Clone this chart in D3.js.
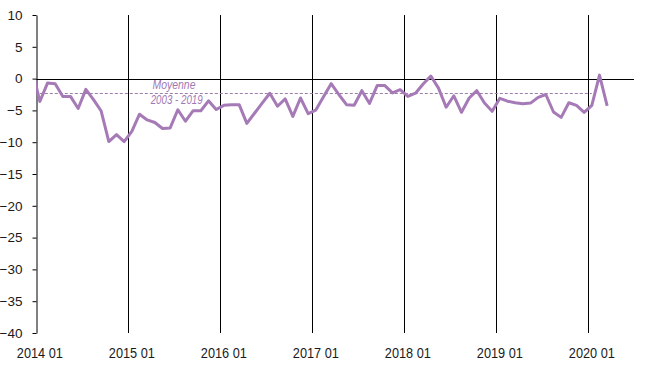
<!DOCTYPE html>
<html>
<head>
<meta charset="utf-8">
<script src="https://cdn.jsdelivr.net/npm/d3@7"></script>
<style>
  html, body { margin: 0; padding: 0; background: #fff; }
  svg { display: block; }
</style>
</head>
<body>
<svg id="chart" width="661" height="379"></svg>
<script>
// ---- data ----
// monthly values, starting December 2013 (first point lies left of the axis and is clipped)
const firstMonth = "2013 12";
const values = [
  1.5,
  -3.6, -0.7, -0.8, -2.8, -2.8, -4.7, -1.7, -3.3, -5.1, -9.9, -8.8, -9.9,
  -8.3, -5.6, -6.5, -6.9, -7.85, -7.75, -4.9, -6.7, -5.05, -5.05, -3.5, -4.85,
  -4.2, -4.1, -4.1, -7.05, -5.45, -3.85, -2.3, -4.35, -3.2, -5.95, -3.05, -5.5,
  -4.95, -2.85, -0.8, -2.5, -4.1, -4.2, -1.9, -3.9, -1.1, -1.1, -2.25, -1.75,
  -2.8, -2.3, -0.85, 0.4, -1.5, -4.5, -2.7, -5.3, -3.05, -1.9, -3.85, -5.15,
  -3.1, -3.55, -3.8, -3.95, -3.85, -2.95, -2.5, -5.25, -6.1, -3.8, -4.2, -5.3,
  -4.2, 0.55, -4.3
];
const meanValue = -2.2;
const meanLabel = ["Moyenne", "2003 - 2019"];
const xTickLabels = ["2014 01", "2015 01", "2016 01", "2017 01", "2018 01", "2019 01", "2020 01"];
const yTicks = [-40, -35, -30, -25, -20, -15, -10, -5, 0, 5, 10];

// ---- layout ----
const pLeft = 36, pRight = 634, pTop = 15, pBottom = 333;
const totalMonths = 78; // Jan 2014 .. Jun 2020
const lineColor = "#a57ab6";
const fontFam = "'Liberation Sans',Arial,sans-serif";

const svg = d3.select("#chart");
const x = d3.scaleLinear().domain([0, totalMonths]).range([pLeft, pRight]);
const y = d3.scaleLinear().domain([-40, 10]).range([pBottom, pTop]);

// month center position: index 0 = Dec 2013 -> -0.5
const mx = i => x(i - 0.5);

// year gridlines
svg.append("g").selectAll("line")
  .data(xTickLabels.slice(1))
  .join("line")
  .attr("x1", (d, k) => Math.round(x(12 * (k + 1))) + 0.5)
  .attr("x2", (d, k) => Math.round(x(12 * (k + 1))) + 0.5)
  .attr("y1", pTop).attr("y2", pBottom)
  .attr("stroke", "#000").attr("stroke-width", 1);

// y axis
const yAxis = d3.axisLeft(y).tickValues(yTicks).tickSize(4).tickSizeOuter(0).tickPadding(10);
const gy = svg.append("g").attr("transform", `translate(${pLeft + 0.5},0)`).call(yAxis);
gy.select(".domain").attr("stroke", "#000");
gy.selectAll(".tick line").attr("stroke", "#000");
gy.selectAll(".tick text")
  .attr("font-family", fontFam)
  .attr("font-size", 13.5).attr("fill", "#1a1a1a");

// zero line
svg.append("line")
  .attr("x1", pLeft).attr("x2", pRight)
  .attr("y1", Math.round(y(0)) + 0.5).attr("y2", Math.round(y(0)) + 0.5)
  .attr("stroke", "#000").attr("stroke-width", 1);

// x labels (condensed look)
svg.append("g").selectAll("text")
  .data(xTickLabels)
  .join("text")
  .attr("x", (d, k) => x(12 * k + 0.5))
  .attr("y", 358)
  .attr("text-anchor", "middle")
  .attr("font-family", fontFam)
  .attr("font-size", 15).attr("fill", "#1a1a1a")
  .attr("textLength", 46).attr("lengthAdjust", "spacingAndGlyphs")
  .text(d => d);

// mean line (Jan 2014 .. Jan 2020)
svg.append("line")
  .attr("x1", mx(1)).attr("x2", mx(73))
  .attr("y1", Math.round(y(meanValue)) + 0.5).attr("y2", Math.round(y(meanValue)) + 0.5)
  .attr("stroke", "#9a7fa8").attr("stroke-width", 1)
  .attr("stroke-dasharray", "3,2");

// mean label
const labelLens = [43, 52];
svg.append("g").selectAll("text")
  .data(meanLabel)
  .join("text")
  .attr("x", (d, k) => x(18.0 + k * 0.35))
  .attr("y", (d, k) => y(meanValue) - 3.5 + k * 15)
  .attr("text-anchor", "middle")
  .attr("font-family", fontFam)
  .attr("font-style", "italic")
  .attr("font-size", 12.5).attr("fill", "#9f79b3")
  .attr("textLength", (d, k) => labelLens[k]).attr("lengthAdjust", "spacingAndGlyphs")
  .text(d => d);

// clip
svg.append("clipPath").attr("id", "plotclip")
  .append("rect").attr("x", pLeft).attr("y", 0).attr("width", pRight - pLeft).attr("height", pBottom);

// series line
const line = d3.line().x((d, i) => mx(i)).y(d => y(d));
svg.append("path")
  .datum(values)
  .attr("clip-path", "url(#plotclip)")
  .attr("d", line)
  .attr("fill", "none")
  .attr("stroke", lineColor)
  .attr("stroke-width", 3)
  .attr("stroke-linejoin", "round");
</script>
</body>
</html>
